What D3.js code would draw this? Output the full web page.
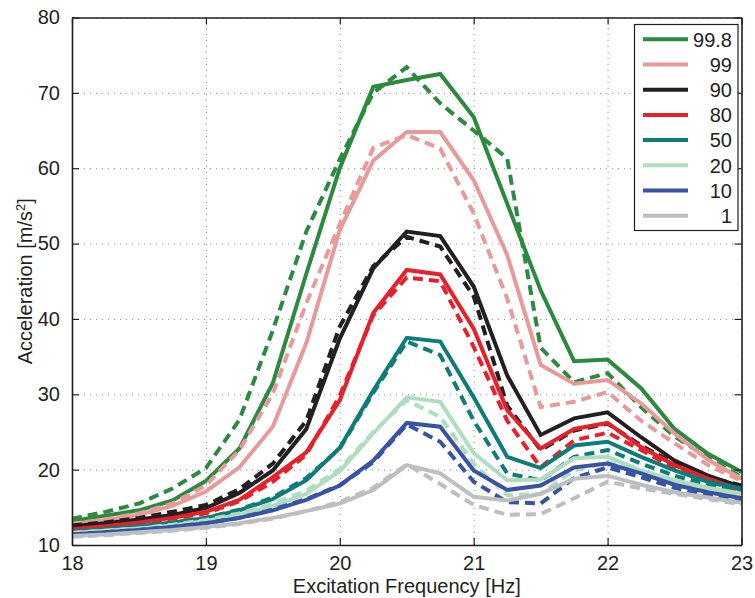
<!DOCTYPE html>
<html>
<head>
<meta charset="utf-8">
<script src="https://cdn.jsdelivr.net/npm/d3@7"></script>
<style>
  body { margin: 0; background: #fff; }
  text { font-family: "Liberation Sans", Arial, sans-serif; fill: #231f20; }
  .grid line { stroke: #8a8a8a; stroke-width: 1; stroke-dasharray: 1,5; }
  .line { fill: none; stroke-width: 4; stroke-linejoin: miter; }
</style>
</head>
<body>
<div id="graph"></div>
<script>
// excitation frequencies [Hz]
var freqs = [18, 18.25, 18.5, 18.75, 19, 19.25, 19.5, 19.75, 20, 20.25, 20.5,
             20.75, 21, 21.25, 21.5, 21.75, 22, 22.25, 22.5, 22.75, 23];

// legend labels (percentiles) and colours
var labels = ['99.8', '99', '90', '80', '50', '20', '10', '1'];
var colors = ['#2b8a3e', '#e89a9a', '#231f20', '#e8202a', '#0e7c78', '#b0dcc0', '#3953a4', '#bcbec0'];

// acceleration [m/s^2], solid lines
var p998Solid = [13.2, 13.9, 14.6, 15.9, 18.5, 22.8, 31.5, 46.0, 60.0, 70.8, 71.7, 72.5, 66.8, 55.3, 43.8, 34.4, 34.6, 30.8, 25.4, 22.1, 19.7];
var p99Solid  = [12.8, 13.3, 14.0, 15.2, 17.1, 20.3, 25.7, 36.8, 51.8, 61.0, 64.8, 64.8, 58.4, 48.5, 33.9, 31.4, 31.9, 28.8, 24.8, 21.3, 18.8];
var p90Solid  = [12.5, 12.9, 13.4, 14.0, 14.9, 16.9, 19.9, 25.4, 37.4, 46.7, 51.6, 51.0, 44.3, 32.5, 24.6, 26.8, 27.6, 24.3, 21.2, 19.2, 17.7];
var p80Solid  = [12.1, 12.5, 13.0, 13.6, 14.4, 16.0, 19.0, 22.3, 29.2, 40.8, 46.5, 45.9, 38.7, 27.9, 22.8, 25.4, 26.2, 23.0, 20.6, 18.8, 17.3];
var p50Solid  = [11.8, 12.1, 12.5, 13.0, 13.6, 14.6, 16.1, 18.6, 22.9, 30.5, 37.5, 37.0, 29.6, 21.7, 20.2, 23.2, 23.7, 21.7, 19.9, 18.4, 17.5];
var p20Solid  = [11.6, 11.9, 12.2, 12.6, 13.2, 14.0, 15.2, 16.8, 19.8, 24.8, 29.6, 29.0, 22.2, 18.6, 18.7, 21.5, 21.7, 19.9, 18.6, 17.6, 16.8];
var p10Solid  = [11.4, 11.7, 12.0, 12.4, 12.9, 13.6, 14.6, 16.0, 17.9, 21.2, 26.2, 25.7, 19.9, 17.3, 17.9, 20.3, 20.8, 19.5, 18.0, 17.0, 16.2];
var p1Solid   = [11.2, 11.4, 11.7, 12.0, 12.4, 12.9, 13.6, 14.5, 15.5, 17.3, 20.6, 19.5, 16.4, 15.9, 16.8, 18.8, 19.2, 18.0, 17.0, 16.3, 15.6];

// acceleration [m/s^2], dashed lines
var p998Dashed = [13.5, 14.4, 15.5, 17.5, 20.2, 26.6, 38.5, 51.6, 61.2, 70.0, 73.4, 68.6, 65.0, 61.3, 36.2, 31.6, 32.8, 28.3, 24.4, 21.6, 19.0];
var p99Dashed  = [12.8, 13.4, 14.2, 15.5, 17.9, 22.6, 30.1, 42.1, 52.6, 62.7, 64.4, 62.6, 54.0, 42.7, 28.3, 29.0, 30.3, 26.5, 23.5, 20.6, 18.5];
var p90Dashed  = [12.6, 13.0, 13.6, 14.4, 15.3, 17.4, 20.8, 26.5, 39.0, 47.0, 50.9, 49.6, 43.0, 28.5, 22.6, 25.2, 26.1, 23.2, 20.8, 19.0, 17.9];
var p80Dashed  = [12.0, 12.4, 12.9, 13.5, 14.2, 15.8, 18.4, 22.0, 29.8, 40.5, 45.5, 45.0, 36.3, 26.5, 20.3, 23.9, 24.9, 22.6, 20.2, 18.5, 17.1];
var p50Dashed  = [11.8, 12.1, 12.5, 13.0, 13.6, 14.7, 16.3, 18.9, 22.8, 30.2, 37.0, 35.2, 26.5, 19.5, 18.6, 21.7, 22.6, 20.8, 19.2, 18.0, 17.1];
var p20Dashed  = [11.6, 11.9, 12.2, 12.7, 13.3, 14.2, 15.5, 17.2, 20.1, 25.0, 29.2, 27.0, 20.8, 16.6, 16.8, 19.9, 21.0, 19.7, 18.5, 17.5, 16.6];
var p10Dashed  = [11.4, 11.7, 12.0, 12.4, 12.9, 13.6, 14.7, 16.1, 17.9, 21.0, 26.0, 23.7, 18.4, 15.7, 15.5, 18.9, 20.3, 19.0, 17.6, 16.6, 15.8];
var p1Dashed   = [11.1, 11.3, 11.6, 11.9, 12.3, 12.8, 13.5, 14.5, 15.7, 17.6, 20.7, 18.1, 15.3, 14.0, 14.1, 16.2, 18.4, 17.5, 16.8, 16.1, 15.4];

var solids = [p998Solid, p99Solid, p90Solid, p80Solid, p50Solid, p20Solid, p10Solid, p1Solid];
var dashes = [p998Dashed, p99Dashed, p90Dashed, p80Dashed, p50Dashed, p20Dashed, p10Dashed, p1Dashed];

// axis ticks
var xTicks = [18, 19, 20, 21, 22, 23];
var yTicks = [10, 20, 30, 40, 50, 60, 70, 80];

// graph dimensions and margins
var margin = {top: 17.5, right: 13.5, bottom: 53, left: 72};
var width = 755 - margin.left - margin.right;
var height = 598 - margin.top - margin.bottom;

var x = d3.scaleLinear().domain([18, 23]).range([0, width]);
var y = d3.scaleLinear().domain([10, 80]).range([height, 0]);

var svg = d3.select('#graph')
  .append('svg')
  .attr('width', 755)
  .attr('height', 598)
.append('g')
  .attr('transform', 'translate(' + margin.left + ',' + margin.top + ')');

// dotted grid
svg.append('g')
  .attr('class', 'grid')
  .attr('transform', 'translate(0,' + height + ')')
  .call(d3.axisBottom(x).tickValues(xTicks).tickSize(-height).tickFormat(''))
  .call(function(g) { g.select('.domain').remove(); });

svg.append('g')
  .attr('class', 'grid')
  .call(d3.axisLeft(y).tickValues(yTicks).tickSize(-width).tickFormat(''))
  .call(function(g) { g.select('.domain').remove(); });

// lines
var valueline = function(vals) {
  return d3.line()
    .x(function(d, i) { return x(freqs[i]); })
    .y(function(d) { return y(d); })(vals);
};

labels.forEach(function(lab, k) {
  svg.append('path')
    .attr('class', 'line')
    .attr('stroke', colors[k])
    .attr('d', valueline(solids[k]));
  svg.append('path')
    .attr('class', 'line')
    .attr('stroke', colors[k])
    .attr('stroke-dasharray', '10,6')
    .attr('d', valueline(dashes[k]));
});

// axes with inward ticks
var styleAxis = function(g) {
  g.select('.domain').attr('stroke', '#231f20').attr('stroke-width', 1.6);
  g.selectAll('.tick line').attr('stroke', '#231f20').attr('stroke-width', 1.2);
  g.selectAll('.tick text').style('font-size', '20px').attr('fill', '#231f20');
};

svg.append('g')
  .attr('transform', 'translate(0,' + height + ')')
  .call(d3.axisBottom(x).tickValues(xTicks).tickSize(-7).tickSizeOuter(0).tickPadding(11).tickFormat(d3.format('d')))
  .call(styleAxis);

svg.append('g')
  .call(d3.axisTop(x).tickValues(xTicks).tickSize(-7).tickSizeOuter(0).tickFormat(''))
  .call(styleAxis);

svg.append('g')
  .call(d3.axisLeft(y).tickValues(yTicks).tickSize(-7).tickSizeOuter(0).tickPadding(12).tickFormat(d3.format('d')))
  .call(styleAxis);

svg.append('g')
  .attr('transform', 'translate(' + width + ',0)')
  .call(d3.axisRight(y).tickValues(yTicks).tickSize(-7).tickSizeOuter(0).tickFormat(''))
  .call(styleAxis);

// axis labels
svg.append('text')
  .attr('x', width / 2)
  .attr('y', height + 48)
  .attr('text-anchor', 'middle')
  .style('font-size', '20px')
  .text('Excitation Frequency [Hz]');

var ylab = svg.append('text')
  .attr('transform', 'translate(' + (-40) + ',' + (height / 2) + ') rotate(-90)')
  .attr('text-anchor', 'middle')
  .style('font-size', '20px');
ylab.append('tspan').text('Acceleration [m/s');
ylab.append('tspan').attr('baseline-shift', 'super').style('font-size', '13px').text('2');
ylab.append('tspan').text(']');

// legend
var legend = svg.append('g')
  .attr('transform', 'translate(' + (x(23) - 107) + ',' + 7 + ')');

legend.append('rect')
  .attr('width', 103.5)
  .attr('height', 206)
  .attr('fill', '#fff')
  .attr('stroke', '#231f20')
  .attr('stroke-width', 1.2);

labels.forEach(function(lab, k) {
  var ly = 14.8 + k * 25.2;
  legend.append('line')
    .attr('x1', 8.5).attr('x2', 53.5)
    .attr('y1', ly).attr('y2', ly)
    .attr('stroke', colors[k])
    .attr('stroke-width', 4);
  legend.append('text')
    .attr('x', 97.5)
    .attr('y', ly)
    .attr('dy', '0.36em')
    .attr('text-anchor', 'end')
    .style('font-size', '20px')
    .text(lab);
});
</script>
</body>
</html>
